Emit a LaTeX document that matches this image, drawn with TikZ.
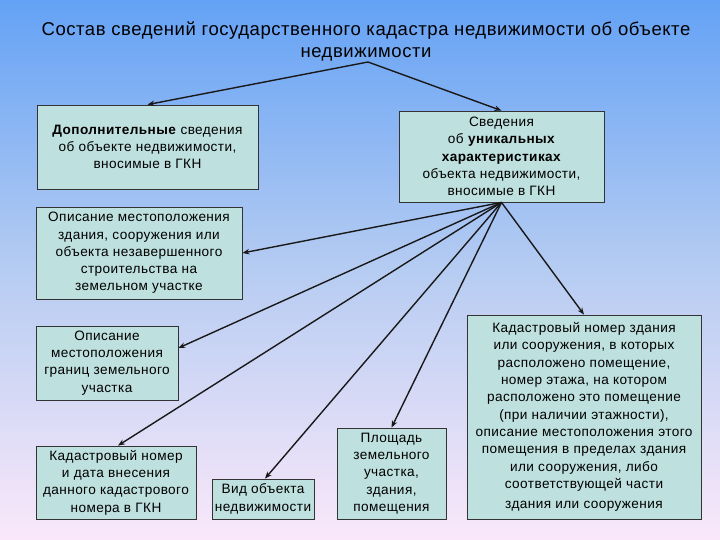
\documentclass[tikz,border=0pt]{standalone}
\usepackage{fontspec}
\setmainfont{Liberation Sans}[LetterSpace=3]
\usetikzlibrary{arrows.meta}
\definecolor{bgtop}{RGB}{100,162,245}
\definecolor{bgmid}{RGB}{182,204,242}
\definecolor{bgbot}{RGB}{250,232,250}
\definecolor{boxfill}{RGB}{190,224,222}
\begin{document}
\begin{tikzpicture}[x=1pt,y=-1pt,
  box/.style={draw=black!80, line width=0.8pt, fill=boxfill, align=center, inner sep=2pt,
    font=\fontsize{13.6}{17.3}\selectfont},
  arr/.style={-{Stealth[length=7pt,width=5.5pt]}, line width=1.4pt, draw=black!90}]
\shade[top color=bgtop, bottom color=bgbot, middle color=bgmid] (0,0) rectangle (720,540);
\useasboundingbox (0,0) rectangle (720,540);

\node[font=\fontsize{18.5}{22}\selectfont, align=center] (title) at (366,41)
  {Состав сведений государственного кадастра недвижимости об объекте\\недвижимости};
\coordinate (ts) at (368,62);

\node[box, minimum width=221, minimum height=84] (A) at (147.5,147)
  {\textbf{Дополнительные} сведения\\об объекте недвижимости,\\вносимые в ГКН};
\node[box, minimum width=205, minimum height=91] (B) at (501.5,156.5)
  {Сведения\\об \textbf{уникальных}\\\textbf{характеристиках}\\объекта недвижимости,\\вносимые в ГКН};
\node[box, minimum width=206, minimum height=92] (C) at (139,253)
  {Описание местоположения\\здания, сооружения или\\объекта незавершенного\\строительства на\\земельном участке};
\node[box, minimum width=142, minimum height=74] (D) at (107,363)
  {Описание\\местоположения\\границ земельного\\участка};
\node[box, minimum width=160, minimum height=73] (E) at (116,482.5)
  {Кадастровый номер\\и дата внесения\\данного кадастрового\\номера в ГКН};
\node[box, minimum width=102, minimum height=40] (F) at (263,499)
  {Вид объекта\\недвижимости};
\node[box, minimum width=109, minimum height=91] (G) at (391.5,473.5)
  {Площадь\\земельного\\участка,\\здания,\\помещения};
\node[box, minimum width=234, minimum height=204] (H) at (584,417)
  {Кадастровый номер здания\\или сооружения, в которых\\расположено помещение,\\номер этажа, на котором\\расположено это помещение\\(при наличии этажности),\\описание местоположения этого\\помещения в пределах здания\\или сооружения, либо\\соответствующей части\\[3pt]здания или сооружения};

\draw[arr] (ts) -- (A.north);
\draw[arr] (ts) -- (B.north);
\draw[arr] (B.south) -- (C.east);
\draw[arr] (B.south) -- ([yshift=15pt]D.east);
\draw[arr] (B.south) -- ([xshift=2pt]E.north);
\draw[arr] (B.south) -- ([xshift=2pt]F.north);
\draw[arr] (B.south) -- (G.north);
\draw[arr] (B.south) -- (H.north);
\end{tikzpicture}
\end{document}
